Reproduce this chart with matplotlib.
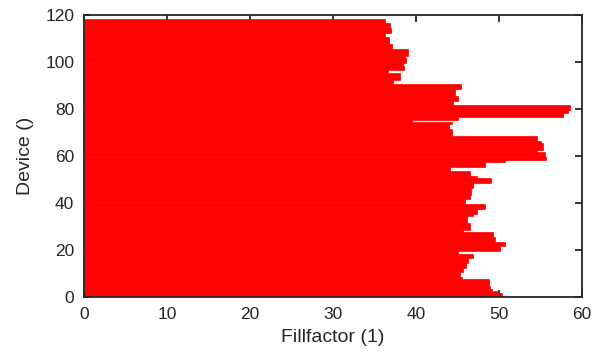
import numpy as np
import matplotlib
matplotlib.use("Agg")
import matplotlib.pyplot as plt

plt.rcParams['font.family'] = ['Liberation Sans', 'DejaVu Sans']

# fillfactor per device, device 1 at the bottom
fillfactor = [
    50.4, 49.7, 49.2, 48.9, 48.8, 48.8, 48.8, 45.5, 45.3, 45.3,   # 1-10
    45.7, 45.7, 46.0, 46.0, 46.2, 46.2, 46.9, 46.9, 45.0, 50.1,   # 11-20
    50.1, 50.7, 50.7, 49.5, 49.5, 49.3, 49.3, 45.7, 46.5, 46.5,   # 21-30
    46.5, 46.1, 46.1, 46.1, 46.9, 47.3, 47.3, 48.3, 48.3, 45.9,   # 31-40
    45.9, 46.5, 46.5, 46.6, 46.6, 46.6, 46.9, 46.9, 49.0, 49.0,   # 41-50
    47.3, 46.5, 46.5, 44.1, 44.1, 48.3, 48.3, 50.7, 55.7, 55.5,   # 51-60
    55.5, 54.6, 55.3, 55.3, 55.3, 55.0, 54.6, 54.6, 44.3, 44.3,   # 61-70
    44.3, 44.0, 44.0, 44.3, 39.5, 45.0, 57.7, 57.7, 58.3, 58.5,   # 71-80
    58.5, 44.5, 44.5, 45.0, 45.0, 44.7, 44.7, 44.7, 45.4, 45.4,   # 81-90
    37.2, 37.2, 38.1, 38.1, 38.1, 36.6, 38.6, 38.6, 38.4, 38.8,   # 91-100
    38.8, 38.7, 39.0, 39.0, 39.0, 37.1, 37.1, 36.7, 36.7, 36.7,   # 101-110
    36.3, 36.3, 37.0, 37.0, 36.9, 36.9, 36.3, 36.3,               # 111-118
]
device = np.arange(1, len(fillfactor) + 1)

xticks = [0, 10, 20, 30, 40, 50, 60]
yticks = [0, 20, 40, 60, 80, 100, 120]

fig = plt.figure(figsize=(5.94, 3.59), dpi=100)
ax = fig.add_axes([0.1414, 0.1727, 0.8386, 0.7855])

ax.barh(device, fillfactor, height=1.0, color='#ff0000', edgecolor='#ff0000',
        linewidth=0.5, zorder=2)

ax.set_xlim(0, 60)
ax.set_ylim(0, 120)
ax.set_xticks(xticks)
ax.set_yticks(yticks)

dark = '#262626'
for s in ax.spines.values():
    s.set_color(dark)
    s.set_linewidth(1.3)
    s.set_zorder(3)
ax.tick_params(direction='in', top=True, right=True, length=5, width=1.3,
               colors=dark, labelsize=12.5)
ax.tick_params(axis='x', pad=7)
ax.tick_params(axis='y', pad=7)

ax.set_xlabel('Fillfactor (1)', fontsize=14, color=dark, labelpad=5)
ax.set_ylabel('Device ()', fontsize=14, color=dark, labelpad=8)

fig.savefig('out.png', dpi=100)
